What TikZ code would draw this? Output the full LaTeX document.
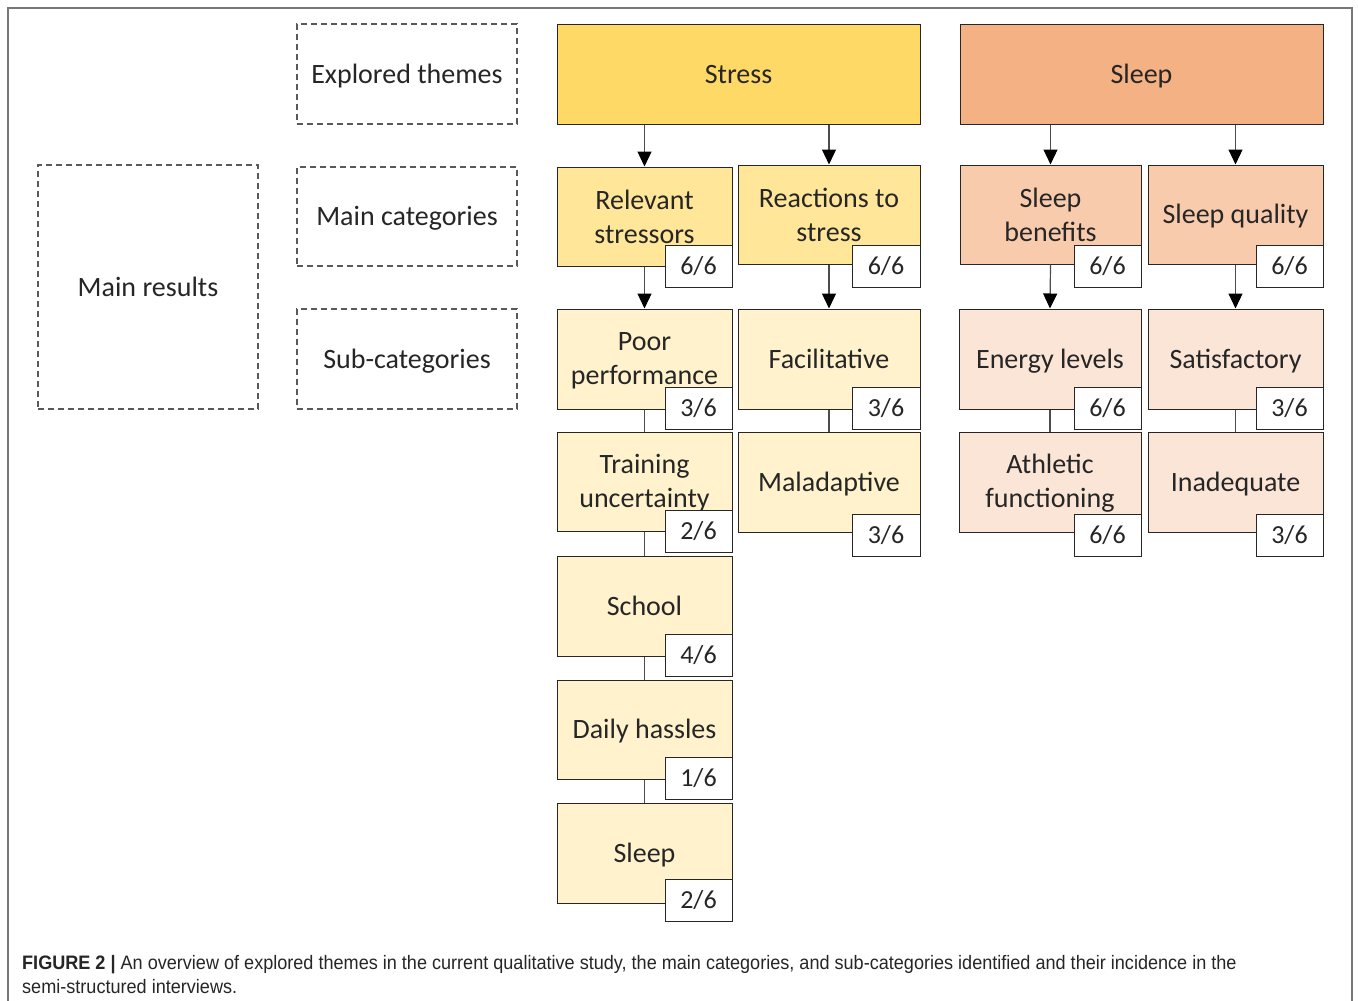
\documentclass[tikz,border=0pt]{standalone}
\usepackage{fontspec}
\setmainfont{Carlito}
\newfontfamily\capfont[FakeStretch=0.927]{Liberation Sans}
\usetikzlibrary{arrows.meta}
\definecolor{stressT}{RGB}{255,217,102}
\definecolor{stressM}{RGB}{255,230,153}
\definecolor{stressS}{RGB}{255,242,204}
\definecolor{sleepT}{RGB}{244,177,131}
\definecolor{sleepM}{RGB}{248,203,173}
\definecolor{sleepS}{RGB}{251,229,214}
\definecolor{txt}{RGB}{38,38,38}
\definecolor{dashc}{RGB}{89,89,89}
\definecolor{framec}{RGB}{120,120,120}
\newcommand{\lowtxt}[1]{\raisebox{-2pt}[\height][\depth]{#1}}
\tikzset{
  lbl/.style={font=\fontsize{28}{34}\selectfont, text=txt, align=center, inner sep=0pt},
  dbox/.style={lbl, draw=dashc, line width=1.2pt, dash pattern=on 6pt off 4pt},
  cbox/.style={lbl, draw=black!85, line width=1pt},
  badge/.style={draw=black!85, fill=white, line width=1pt, font=\fontsize{26}{30}\selectfont, text=txt, inner sep=0pt, minimum width=67pt, minimum height=42pt},
  arr/.style={draw=black!70, line width=1.2pt, -{Triangle[length=15pt,width=14pt,fill=black,color=black]}},
  con/.style={draw=black!70, line width=1.2pt},
}
\begin{document}
\begin{tikzpicture}[x=1pt,y=-1pt]
\useasboundingbox (0,0) rectangle (1358,1001);
\fill[white] (0,0) rectangle (1358,1001);
\draw[framec, line width=1.5pt] (8,1001) -- (8,8) -- (1352,8) -- (1352,1001);
% dashed legend boxes
\node[dbox, minimum width=220pt, minimum height=100pt] (et) at (407,74) {\lowtxt{Explored themes}};
\node[dbox, minimum width=220pt, minimum height=99pt] (mc) at (407,216.5) {\lowtxt{Main categories}};
\node[dbox, minimum width=220pt, minimum height=100pt] (sc) at (407,359) {\lowtxt{Sub-categories}};
\node[dbox, minimum width=220pt, minimum height=244pt] (mr) at (148,287) {Main results};
% themes
\node[cbox, fill=stressT, minimum width=363pt, minimum height=100pt] (stress) at (738.5,74) {\raisebox{-1pt}[\height][\depth]{Stress}};
\node[cbox, fill=sleepT, minimum width=363pt, minimum height=100pt] (sleep) at (1141.5,74) {\lowtxt{Sleep}};
% main categories
\node[cbox, fill=stressM, minimum width=175pt, minimum height=99pt] (rs) at (644.5,216.5) {Relevant\\stressors};
\node[cbox, fill=stressM, minimum width=182pt, minimum height=99pt] (rts) at (829,214.5) {Reactions to\\stress};
\node[cbox, fill=sleepM, minimum width=181pt, minimum height=99pt] (sb) at (1050.5,214.5) {Sleep\\benefits};
\node[cbox, fill=sleepM, minimum width=175pt, minimum height=99pt] (sq) at (1235.5,214.5) {\lowtxt{Sleep quality}};
% sub-categories
\node[cbox, fill=stressS, minimum width=175pt, minimum height=100pt] (pp) at (644.5,359) {\lowtxt{\begin{tabular}{@{}c@{}}Poor\\performance\end{tabular}}};
\node[cbox, fill=stressS, minimum width=175pt, minimum height=99pt] (tu) at (644.5,481.5) {\lowtxt{\begin{tabular}{@{}c@{}}Training\\uncertainty\end{tabular}}};
\node[cbox, fill=stressS, minimum width=175pt, minimum height=100pt] (sch) at (644.5,606) {School};
\node[cbox, fill=stressS, minimum width=175pt, minimum height=99pt] (dh) at (644.5,729.5) {\lowtxt{Daily hassles}};
\node[cbox, fill=stressS, minimum width=175pt, minimum height=100pt] (sl) at (644.5,853) {\lowtxt{Sleep}};
\node[cbox, fill=stressS, minimum width=182pt, minimum height=100pt] (fa) at (829,359) {Facilitative};
\node[cbox, fill=stressS, minimum width=182pt, minimum height=100pt] (ma) at (829,482) {\lowtxt{Maladaptive}};
\node[cbox, fill=sleepS, minimum width=182pt, minimum height=100pt] (el) at (1050,359) {\lowtxt{Energy levels}};
\node[cbox, fill=sleepS, minimum width=182pt, minimum height=100pt] (af) at (1050,482) {\lowtxt{\begin{tabular}{@{}c@{}}Athletic\\functioning\end{tabular}}};
\node[cbox, fill=sleepS, minimum width=175pt, minimum height=100pt] (sa) at (1235.5,359) {\lowtxt{Satisfactory}};
\node[cbox, fill=sleepS, minimum width=175pt, minimum height=100pt] (in) at (1235.5,482) {\lowtxt{Inadequate}};
% connectors
\draw[arr] (rs.north |- stress.south) -- (rs.north);
\draw[arr] (rts.north |- stress.south) -- (rts.north);
\draw[arr] (sb.north |- sleep.south) -- (sb.north);
\draw[arr] (sq.north |- sleep.south) -- (sq.north);
\draw[arr] (rs.south) -- (pp.north);
\draw[arr] (rts.south) -- (fa.north);
\draw[arr] (sb.south) -- (el.north);
\draw[arr] (sq.south) -- (sa.north);
\draw[con] (pp.south) -- (tu.north);
\draw[con] (tu.south) -- (sch.north);
\draw[con] (sch.south) -- (dh.north);
\draw[con] (dh.south) -- (sl.north);
\draw[con] (fa.south) -- (ma.north);
\draw[con] (el.south) -- (af.north);
\draw[con] (sa.south) -- (in.north);
% badges
\node[badge] (b1) at (698.5,266) {6/6};
\node[badge, minimum width=68pt] (b2) at (886,266) {6/6};
\node[badge] (b3) at (1107.5,266) {6/6};
\node[badge] (b4) at (1289.5,266) {6/6};
\node[badge] (b5) at (698.5,408) {3/6};
\node[badge, minimum width=68pt] (b6) at (886,408) {3/6};
\node[badge] (b7) at (1107.5,408) {6/6};
\node[badge] (b8) at (1289.5,408) {3/6};
\node[badge] (b9) at (698.5,531.5) {2/6};
\node[badge, minimum width=68pt] (b10) at (886,535) {3/6};
\node[badge] (b11) at (1107.5,535) {6/6};
\node[badge] (b12) at (1289.5,535) {3/6};
\node[badge] (b13) at (698.5,655) {4/6};
\node[badge] (b14) at (698.5,778) {1/6};
\node[badge] (b15) at (698.5,900) {2/6};
% caption
\node[anchor=base west, inner sep=0pt, text=black!85, font=\capfont\fontsize{19.5}{24.5}\selectfont, align=left] (cap) at (22,993.5) {\textbf{FIGURE 2 |} An overview of explored themes in the current qualitative study, the main categories, and sub-categories identified and their incidence in the\\semi-structured interviews.};
\end{tikzpicture}
\end{document}
